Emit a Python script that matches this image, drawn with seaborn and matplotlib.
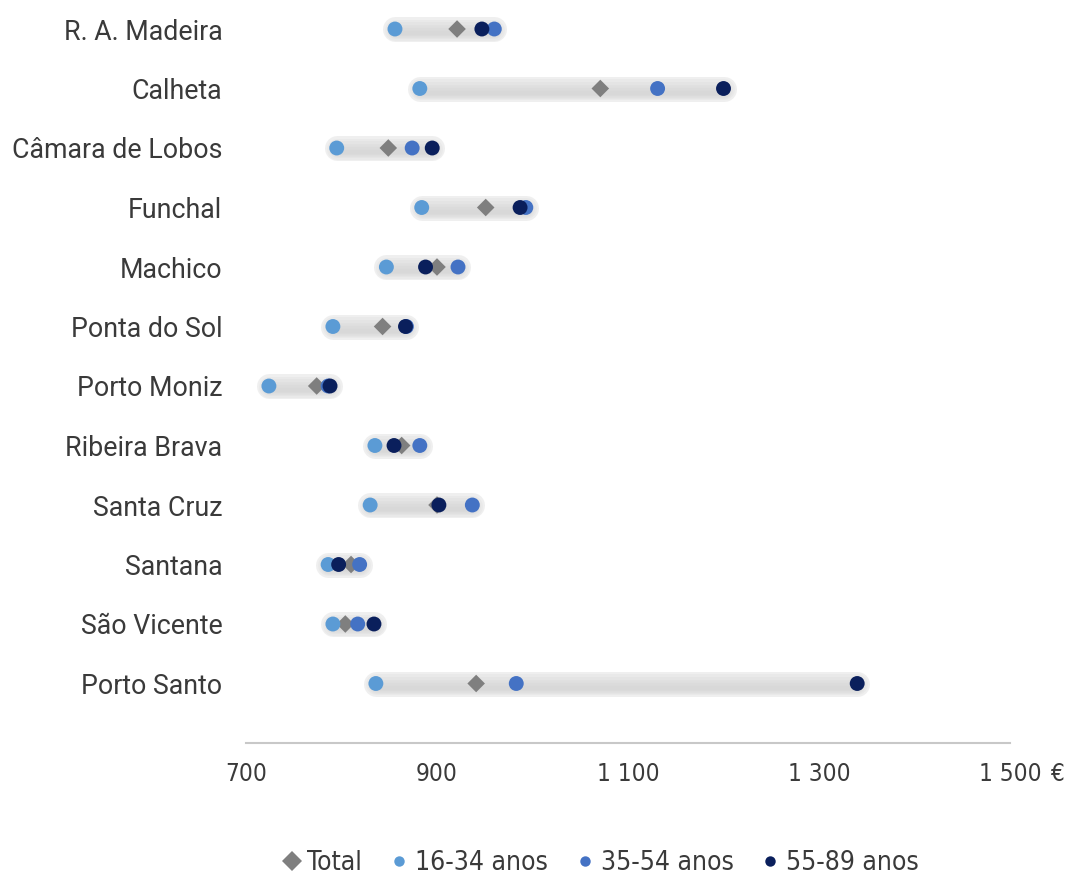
import matplotlib
matplotlib.use("Agg")
import matplotlib.pyplot as plt
from matplotlib.lines import Line2D
from matplotlib.font_manager import FontProperties, fontManager
import numpy as np
import pandas as pd
import seaborn as sns

# Municipalities, listed top to bottom
categories = ["R. A. Madeira", "Calheta", "Câmara de Lobos", "Funchal", "Machico",
              "Ponta do Sol", "Porto Moniz", "Ribeira Brava", "Santa Cruz",
              "Santana", "São Vicente", "Porto Santo"]

# Average monthly earnings (€) by age group
total = [921, 1071, 849, 951, 900, 843, 774, 863, 900, 810, 804, 941]
age_16_34 = [856, 882, 795, 884, 847, 791, 724, 835, 830, 786, 791, 836]
age_35_54 = [960, 1131, 874, 993, 922, 868, 786, 882, 937, 819, 817, 983]
age_55_89 = [947, 1200, 895, 987, 888, 867, 788, 855, 902, 797, 834, 1340]

series_names = ["Total", "16-34 anos", "35-54 anos", "55-89 anos"]
x_ticks = [700, 900, 1100, 1300, 1500]
x_tick_labels = ["700", "900", "1 100", "1 300", "1 500"]

colors = {"Total": "#7f7f7f", "16-34 anos": "#5b9bd5",
          "35-54 anos": "#4472c4", "55-89 anos": "#0a1f5c"}
markers = {"Total": "D", "16-34 anos": "o", "35-54 anos": "o", "55-89 anos": "o"}
sizes = {"Total": 80, "16-34 anos": 115, "35-54 anos": 115, "55-89 anos": 115}

sns.set_theme(style="white")
plt.rcParams["font.family"] = ["Roboto", "DejaVu Sans"]
text_color = "#3a3a3a"

# Condensed face for the axis numbers and legend, when one is available
has_condensed = any(f.name == "DejaVu Sans" and f.stretch in ("condensed", 300)
                    for f in fontManager.ttflist)
if has_condensed:
    tick_font = FontProperties(family="DejaVu Sans", stretch="condensed", size=17.5)
    legend_font = FontProperties(family="DejaVu Sans", stretch="condensed", size=19)
else:
    tick_font = FontProperties(family="Liberation Sans", size=16)
    legend_font = FontProperties(family="Liberation Sans", size=17)

n = len(categories)
ypos = np.arange(n, 0, -1)  # first category on top

rows = []
for name, vals in zip(series_names, [total, age_16_34, age_35_54, age_55_89]):
    for cat, y, v in zip(categories, ypos, vals):
        rows.append({"municipio": cat, "y": y, "valor": v, "serie": name})
df = pd.DataFrame(rows)

fig = plt.figure(figsize=(10.75, 8.75), dpi=100)
ax = fig.add_axes([246 / 1075, 1 - 743 / 875, 764 / 1075, 743 / 875])

# Range bands behind the markers: light top shading into a darker lower part
lo = df.groupby("y")["valor"].min()
hi = df.groupby("y")["valor"].max()
band_layers = [(0.0, 18, "#efefef"), (-0.01, 15, "#e9e9e9"),
               (-0.025, 12, "#e4e4e4"), (-0.04, 9, "#dfdfdf"),
               (-0.055, 6, "#dbdbdb"), (-0.07, 3, "#d8d8d8")]
for dy, lw, col in band_layers:
    ax.hlines(lo.index + dy, lo.values, hi.values, colors=col, linewidth=lw,
              capstyle="round", zorder=1)

sns.scatterplot(data=df, x="valor", y="y", hue="serie", style="serie",
                size="serie", palette=colors, markers=markers, sizes=sizes,
                hue_order=series_names, style_order=series_names,
                size_order=series_names, linewidth=0, legend=False,
                ax=ax, zorder=3)

ax.set_xlim(700, 1500)
ax.set_ylim(0, 743 / 59.5)
ax.set_xticks(x_ticks)
ax.set_xticklabels(x_tick_labels, fontproperties=tick_font, color=text_color)
ax.set_yticks(ypos)
ax.set_yticklabels(categories, fontsize=19.3, color=text_color)
ax.tick_params(axis="x", length=0, pad=14)
ax.tick_params(axis="y", length=0, pad=17)
ax.set_xlabel("")
ax.set_ylabel("")
for side in ["top", "right", "left"]:
    ax.spines[side].set_visible(False)
ax.spines["bottom"].set_color("#c8c8c8")
ax.spines["bottom"].set_linewidth(1.5)

# Currency sign after the last tick label
ax.annotate("€", xy=(1500, 0), xycoords=("data", "axes fraction"),
            xytext=(34, -14), textcoords="offset points", ha="center", va="top",
            fontproperties=tick_font, color=text_color)

handles = [Line2D([], [], marker=markers[s], linestyle="none",
                  markerfacecolor=colors[s], markeredgewidth=0,
                  markersize=10 if s == "Total" else 7.5)
           for s in series_names]
fig.legend(handles, series_names, loc="center", ncol=4, frameon=False,
           bbox_to_anchor=(600 / 1075, 1 - 863 / 875),
           handlelength=0.8, handletextpad=0.2, columnspacing=1.0,
           prop=legend_font, labelcolor=text_color)

fig.savefig("out.png", dpi=100, facecolor="white")
